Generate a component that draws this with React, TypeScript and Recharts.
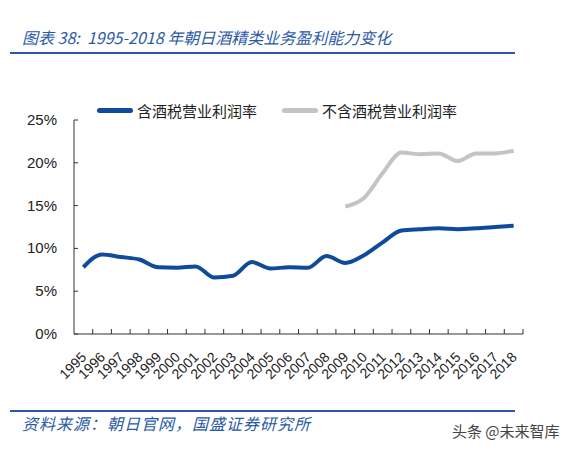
import React from 'react';
import { LineChart, Line, XAxis, YAxis, Legend } from 'recharts';

// 1995-2018 Asahi alcoholic beverage operating margin (%)
const years = [
  '1995', '1996', '1997', '1998', '1999', '2000', '2001', '2002', '2003', '2004', '2005', '2006',
  '2007', '2008', '2009', '2010', '2011', '2012', '2013', '2014', '2015', '2016', '2017', '2018',
];
const withTax = [
  7.8, 9.3, 9.0, 8.7, 7.8, 7.75, 7.9, 6.6, 6.8, 8.4, 7.65, 7.8,
  7.75, 9.1, 8.3, 9.2, 10.7, 12.1, 12.25, 12.35, 12.25, 12.35, 12.5, 12.65,
];
const exTax: (number | null)[] = [
  null, null, null, null, null, null, null, null, null, null, null, null,
  null, null, 14.9, 15.9, 18.8, 21.2, 21.0, 21.1, 20.2, 21.1, 21.1, 21.4,
];
const yTicks = [0, 5, 10, 15, 20, 25];
const seriesOrder = ['withTax', 'exTax'];

const data = years.map((year, i) => ({ year, withTax: withTax[i], exTax: exTax[i] }));

const W = 569;
const H = 449;
const margin = { top: 120, right: 46, bottom: 55, left: 0 };
const yAxisWidth = 74;
const band = (W - margin.left - margin.right - yAxisWidth) / years.length;

const AXIS = '#333';
const TEXT = '#222';
const BLUE = '#0f4a9c';
const GRAY = '#c4c4c4';
const TITLE_BLUE = '#2a5aa6';

const XTick = (props: any) => {
  const { x, y, payload } = props;
  const tx = x + 4;
  const ty = y + 24;
  return (
    <g>
      <line x1={x + band / 2} x2={x + band / 2} y1={y} y2={y - 5} stroke={AXIS} />
      <text
        x={tx}
        y={ty}
        transform={`rotate(-45 ${tx} ${ty})`}
        textAnchor="end"
        fontSize={14}
        fill={TEXT}
        fontFamily="Liberation Sans, Arial, sans-serif"
      >
        {payload.value}
      </text>
    </g>
  );
};

const YTick = (props: any) => {
  const { x, y, payload } = props;
  return (
    <g>
      <line x1={x} x2={x + 4} y1={y} y2={y} stroke={AXIS} />
      <text
        x={x - 17}
        y={y + 5}
        textAnchor="end"
        fontSize={15}
        fill={TEXT}
        fontFamily="Liberation Sans, Arial, sans-serif"
      >
        {payload.value}%
      </text>
    </g>
  );
};

const renderLegend = (props: any) => {
  const payload = [...(props.payload || [])].sort(
    (a: any, b: any) => seriesOrder.indexOf(a.dataKey) - seriesOrder.indexOf(b.dataKey)
  );
  return (
    <div style={{ display: 'flex', alignItems: 'center' }}>
      {payload.map((entry: any, i: number) => (
        <div key={i} style={{ display: 'flex', alignItems: 'center', marginRight: 25 }}>
          <span
            style={{
              display: 'inline-block',
              width: 36,
              height: 5,
              borderRadius: 3,
              background: entry.color,
              marginRight: 4,
            }}
          />
          <span style={{ fontSize: 15, color: TEXT, fontFamily: 'Noto Sans CJK SC, sans-serif' }}>
            {entry.value}
          </span>
        </div>
      ))}
    </div>
  );
};

export default function App() {
  return (
    <div style={{ position: 'relative', width: W, height: H, background: '#fff', overflow: 'hidden' }}>
      <style>{'body{margin:0}'}</style>
      <div
        style={{
          position: 'absolute',
          left: 22,
          top: 25,
          fontSize: 16,
          fontStyle: 'italic',
          color: TITLE_BLUE,
          fontFamily: 'Noto Sans CJK SC, sans-serif',
          whiteSpace: 'nowrap',
        }}
      >
        图表 38:&nbsp; 1995-2018 年朝日酒精类业务盈利能力变化
      </div>
      <div style={{ position: 'absolute', left: 10, top: 52, width: 505, height: 2, background: TITLE_BLUE }} />

      <LineChart width={W} height={H} data={data} margin={margin}>
        <XAxis
          dataKey="year"
          scale="band"
          interval={0}
          tickSize={0}
          tickMargin={0}
          tickLine={false}
          tick={<XTick />}
          height={60}
          stroke={AXIS}
        />
        <YAxis
          domain={[0, 25]}
          ticks={yTicks}
          width={yAxisWidth}
          tickSize={0}
          tickMargin={0}
          tickLine={false}
          tick={<YTick />}
          stroke={AXIS}
        />
        <Legend
          content={renderLegend}
          verticalAlign="middle"
          wrapperStyle={{ position: 'absolute', top: 100, left: 97, width: 420 }}
        />
        <Line
          type="monotone"
          dataKey="withTax"
          name="含酒税营业利润率"
          stroke={BLUE}
          strokeWidth={4}
          dot={false}
          isAnimationActive={false}
        />
        <Line
          type="monotone"
          dataKey="exTax"
          name="不含酒税营业利润率"
          stroke={GRAY}
          strokeWidth={4}
          dot={false}
          isAnimationActive={false}
        />
      </LineChart>

      <div style={{ position: 'absolute', left: 10, top: 410, width: 505, height: 2, background: TITLE_BLUE }} />
      <div
        style={{
          position: 'absolute',
          left: 22,
          top: 411,
          fontSize: 16,
          letterSpacing: 1,
          fontStyle: 'italic',
          color: TITLE_BLUE,
          fontFamily: 'Noto Sans CJK SC, sans-serif',
          whiteSpace: 'nowrap',
        }}
      >
        资料来源：朝日官网，国盛证券研究所
      </div>
      <div
        style={{
          position: 'absolute',
          left: 452,
          top: 420,
          fontSize: 15,
          color: '#444',
          fontFamily: 'Noto Sans CJK SC, sans-serif',
          whiteSpace: 'nowrap',
        }}
      >
        头条 @未来智库
      </div>
    </div>
  );
}
